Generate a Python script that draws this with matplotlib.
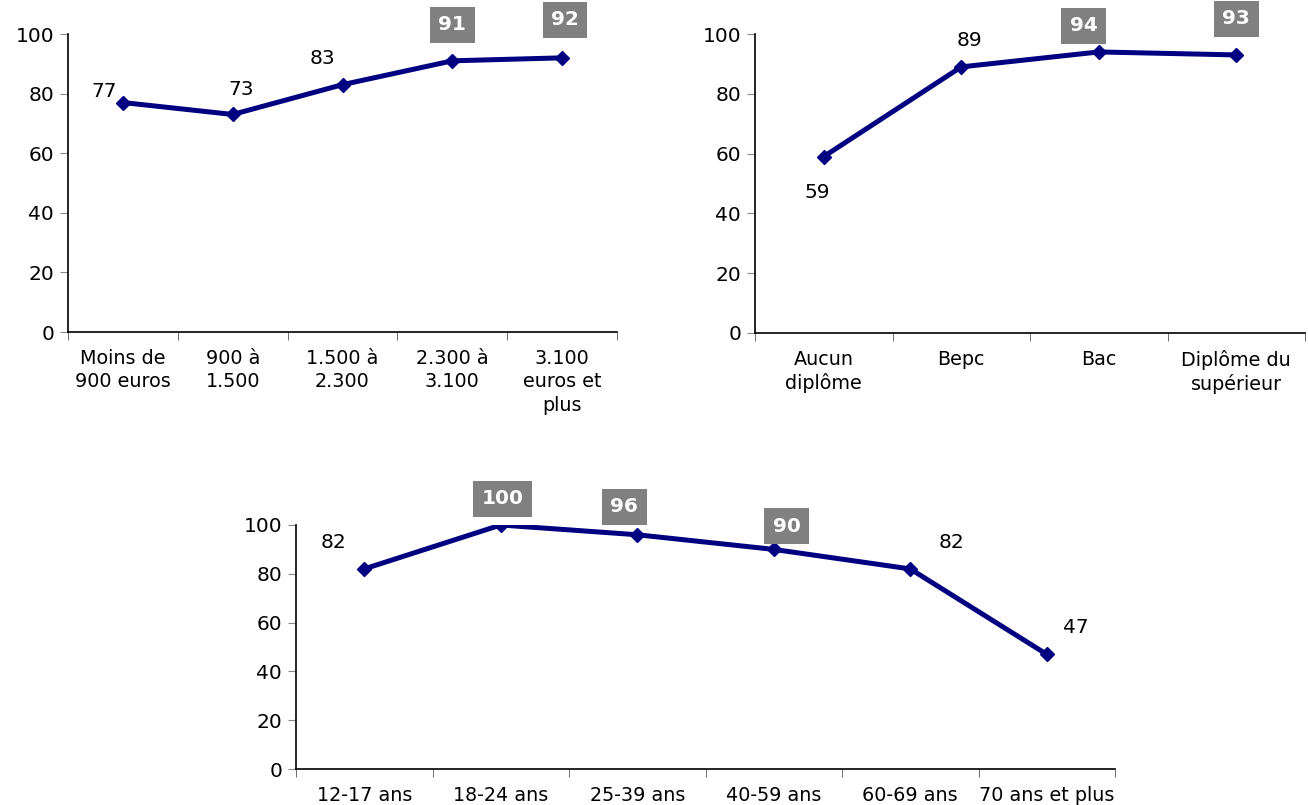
import matplotlib
matplotlib.use("Agg")
import matplotlib.pyplot as plt
import numpy as np

plt.rcParams['font.family'] = ['DejaVu Sans']

revenu_cats = ["Moins de\n900 euros", "900 à\n1.500", "1.500 à\n2.300", "2.300 à\n3.100", "3.100\neuros et\nplus"]
revenu_vals = [77, 73, 83, 91, 92]
revenu_boxed = [False, False, False, True, True]

diplome_cats = ["Aucun\ndiplôme", "Bepc", "Bac", "Diplôme du\nsupérieur"]
diplome_vals = [59, 89, 94, 93]
diplome_boxed = [False, False, True, True]

age_cats = ["12-17 ans", "18-24 ans", "25-39 ans", "40-59 ans", "60-69 ans", "70 ans et plus"]
age_vals = [82, 100, 96, 90, 82, 47]
age_boxed = [False, True, True, True, False, False]

W, H = 1308, 805
fig = plt.figure(figsize=(W / 100, H / 100), dpi=100)

def px_axes(x0, x1, y_top, y_bot):
    return fig.add_axes([x0 / W, 1 - y_bot / H, (x1 - x0) / W, (y_bot - y_top) / H])

NAVY = "#000080"
FS = 14.5

def draw(ax, cats, vals, boxed, offsets):
    n = len(cats)
    x = np.arange(n)
    ax.plot(x, vals, color=NAVY, lw=3.6, marker="D", ms=7, solid_joinstyle="round")
    ax.set_xlim(-0.5, n - 0.5)
    ax.set_ylim(0, 100)
    ax.set_yticks([0, 20, 40, 60, 80, 100])
    ax.set_xticks(x)
    ax.set_xticklabels(cats, fontsize=13.8, linespacing=1.3)
    ax.set_xticks(np.arange(n + 1) - 0.5, minor=True)
    ax.tick_params(axis="x", which="major", length=0, pad=12)
    ax.tick_params(axis="x", which="minor", length=6, color="#555555", direction="out")
    ax.tick_params(axis="y", length=6, color="#888888", labelsize=FS, pad=4)
    for s in ["top", "right"]:
        ax.spines[s].set_visible(False)
    ax.spines["left"].set_linewidth(1.2)
    ax.spines["bottom"].set_linewidth(1.2)
    for xi, v, b, off in zip(x, vals, boxed, offsets):
        if b:
            ax.annotate(str(v), (xi, v), xytext=off, textcoords="offset pixels",
                        ha="center", va="center", fontsize=FS, fontweight="bold", color="white",
                        bbox=dict(boxstyle="square,pad=0.42", fc="#808080", ec="none"),
                        annotation_clip=False)
        else:
            ax.annotate(str(v), (xi, v), xytext=off, textcoords="offset pixels",
                        ha="center", va="center", fontsize=FS, color="black",
                        annotation_clip=False)

ax1 = px_axes(68, 617, 34, 332)
draw(ax1, revenu_cats, revenu_vals, revenu_boxed,
     [(-19, 11), (8, 25), (-20, 26), (0, 36), (3, 38)])

ax2 = px_axes(755, 1305, 34, 333)
draw(ax2, diplome_cats, diplome_vals, diplome_boxed,
     [(-6, -36), (8, 26), (-15, 26), (0, 36)])

ax3 = px_axes(296, 1115, 525, 769)
draw(ax3, age_cats, age_vals, age_boxed,
     [(-31, 26), (2, 26), (-13, 28), (13, 23), (41, 26), (29, 27)])

fig.savefig("out.png", dpi=100)
